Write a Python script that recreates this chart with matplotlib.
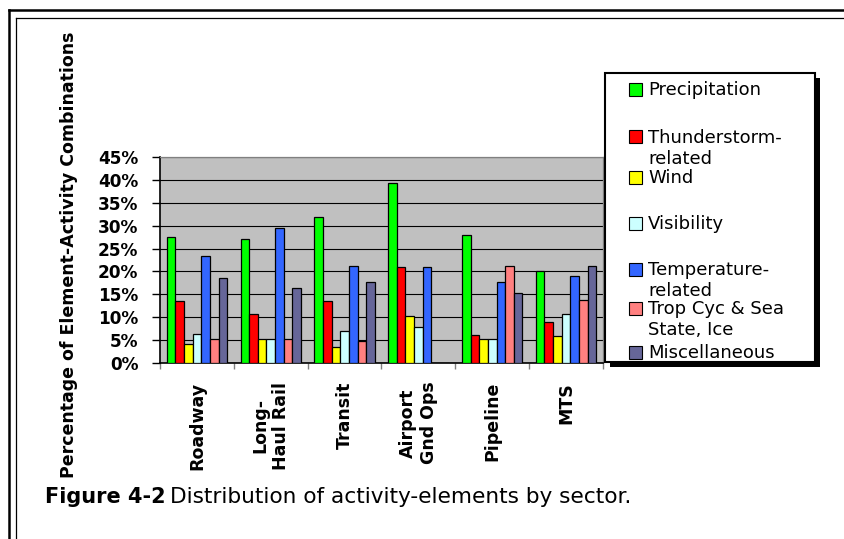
import numpy as np
import matplotlib
matplotlib.use("Agg")
import matplotlib.pyplot as plt
from matplotlib.patches import Rectangle
from matplotlib.lines import Line2D

# share of element-activity combinations per sector (%)
sectors = ["Roadway", "Long-\nHaul Rail", "Transit", "Airport\nGnd Ops", "Pipeline", "MTS"]
precipitation = [27.6, 27.1, 31.9, 39.3, 27.9, 20.0]
thunderstorm = [13.5, 10.6, 13.5, 20.9, 6.1, 8.9]
wind = [4.1, 5.2, 3.5, 10.3, 5.2, 5.8]
visibility = [6.4, 5.2, 7.0, 7.8, 5.2, 10.6]
temperature = [23.4, 29.4, 21.1, 20.9, 17.7, 19.1]
trop_cyc = [5.2, 5.2, 4.9, 0.0, 21.1, 13.7]
misc = [18.6, 16.3, 17.7, 0.0, 15.4, 21.1]

series_names = ["Precipitation", "Thunderstorm-\nrelated", "Wind", "Visibility",
                "Temperature-\nrelated", "Trop Cyc & Sea\nState, Ice", "Miscellaneous"]
series_vals = [precipitation, thunderstorm, wind, visibility, temperature, trop_cyc, misc]
colores = ["#00FF00", "#FF0000", "#FFFF00", "#CCFFFF", "#3366FF", "#FF8080", "#666699"]

yticks = list(range(0, 50, 5))

W, H = 845, 539
fig = plt.figure(figsize=(W / 100, H / 100), dpi=100)
fig.patch.set_facecolor("white")


def px(x, y):
    # pixel position (from top-left) -> figure fraction
    return x / W, 1 - y / H


ax = fig.add_axes([160 / W, 1 - 363 / H, 443 / W, 206 / H])
ax.set_facecolor("#C0C0C0")

x = np.arange(len(sectors))
w = 0.117
for j, (vals, col) in enumerate(zip(series_vals, colores)):
    ax.bar(x + (j - 3) * w, vals, w, color=col, edgecolor="black", linewidth=0.9, zorder=3)

ax.set_xlim(-0.5, len(sectors) - 0.5)
ax.set_ylim(0, 45)
ax.set_yticks(yticks)
ax.set_yticklabels([f"{v}%" for v in yticks], fontsize=12.2, fontweight="bold")
ax.tick_params(axis="y", length=6, width=1, color="black", pad=9.5)
ax.yaxis.grid(True, color="black", linewidth=0.8)
ax.set_axisbelow(True)

ax.set_xticks(x)
ax.set_xticklabels(sectors, rotation=90, fontsize=12.5, fontweight="bold",
                   va="top", ha="center", multialignment="center")
ax.tick_params(axis="x", which="major", length=0, pad=13.5)
ax.set_xticks(np.arange(-0.5, len(sectors)), minor=True)
ax.tick_params(axis="x", which="minor", length=4.5, width=1, color="#808080")

for s in ["left", "bottom"]:
    ax.spines[s].set_color("black")
    ax.spines[s].set_linewidth(1.2)
for s in ["top", "right"]:
    ax.spines[s].set_color("#808080")
    ax.spines[s].set_linewidth(0.9)

# y-axis title
fig.text(*px(69, 255), "Percentage of Element-Activity Combinations", rotation=90,
         ha="center", va="center", fontsize=12.5, fontweight="bold")

# legend box with shadow
lx0, ly0, lx1, ly1 = 605, 73, 815, 362
fig.add_artist(Rectangle(px(lx0 + 5, ly1 + 5), (lx1 - lx0) / W, (ly1 - ly0) / H,
                         transform=fig.transFigure, facecolor="black", edgecolor="none"))
fig.add_artist(Rectangle(px(lx0, ly1), (lx1 - lx0) / W, (ly1 - ly0) / H,
                         transform=fig.transFigure, facecolor="white", edgecolor="black",
                         linewidth=1.5))
entry_y = [89, 137, 177, 223, 269, 308, 352]
for name, col, yc in zip(series_names, colores, entry_y):
    fig.add_artist(Rectangle(px(629, yc + 6.5), 13 / W, 13 / H, transform=fig.transFigure,
                             facecolor=col, edgecolor="black", linewidth=0.8))
    for k, line in enumerate(name.split("\n")):
        fig.text(*px(648, yc + 6 + 21 * k), line, fontsize=13, ha="left", va="baseline")

# caption
fig.text(*px(45, 503), "Figure 4-2", fontsize=15, fontweight="bold",
         ha="left", va="baseline")
fig.text(*px(170, 503), "Distribution of activity-elements by sector.", fontsize=15.6,
         ha="left", va="baseline")

# page frame
for (xa, ya, xb, yb, lw) in [(9, 10, W, 10, 1.8), (9, 10, 9, H, 1.8),
                             (16.5, 17.5, W, 17.5, 0.9), (16.5, 17.5, 16.5, H, 0.9)]:
    fig.add_artist(Line2D([xa / W, xb / W], [1 - ya / H, 1 - yb / H],
                          transform=fig.transFigure, color="black", linewidth=lw))

fig.savefig("out.png", dpi=100)
